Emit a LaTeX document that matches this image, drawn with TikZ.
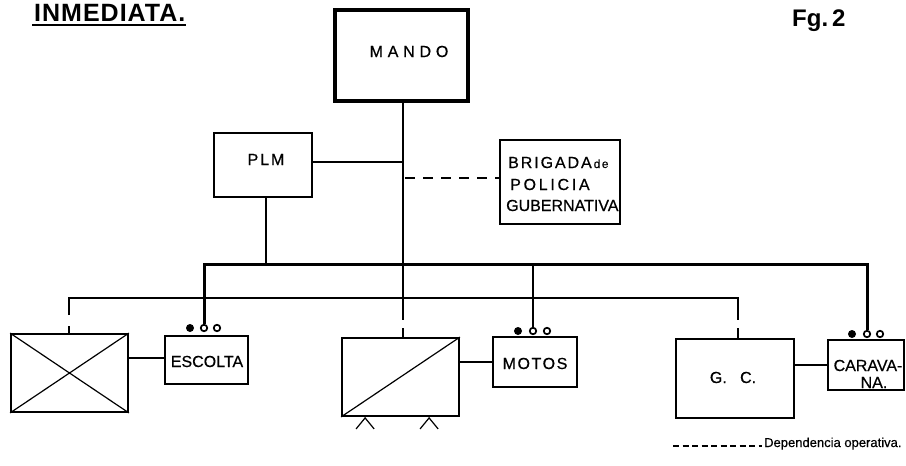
\documentclass[tikz,border=0pt]{standalone}
\usepackage{fontspec}
\setmainfont{Liberation Sans}
\newfontfamily\lblfont[FakeBold=0.6]{Liberation Sans}
\usetikzlibrary{calc}
\begin{document}
\begin{tikzpicture}[x=1pt,y=-1pt,
  box/.style={draw, line width=1.8pt, inner sep=0pt, rectangle},
  bigbox/.style={draw, line width=4pt, inner sep=0pt, rectangle},
  lbl/.style={inner sep=0pt, anchor=base, font=\lblfont\fontsize{16}{19}\selectfont},
  thinlink/.style={line width=1.2pt},
  buslink/.style={line width=3pt},
  mainlink/.style={line width=2.5pt},
  seclink/.style={line width=2.2pt},
  motlink/.style={line width=2pt},
  opdash/.style={line width=1.3pt, dash pattern=on 10pt off 8pt},
  legdash/.style={line width=1.2pt, dash pattern=on 6pt off 3.5pt},
  dotf/.style={circle, fill=black, inner sep=0pt, minimum size=8pt},
  doto/.style={circle, draw, line width=1.7pt, inner sep=0pt, minimum size=6.5pt}
]
\useasboundingbox (0,0) rectangle (906,466);

% title
\node[inner sep=0pt, anchor=base west, font=\bfseries\fontsize{25}{25}\selectfont] (title) at (34,21) {\addfontfeature{LetterSpace=4}INMEDIATA.};
\draw[line width=2pt] ([yshift=-4pt,xshift=-2pt]title.south west) -- ([yshift=-4pt,xshift=0pt]title.south east);
\node[inner sep=0pt, anchor=base west, font=\bfseries\fontsize{24}{24}\selectfont] (fig) at (792,26) {Fg.\,2};

% boxes
\node[bigbox, minimum width=133pt, minimum height=91pt] (mando) at (401.5,55.5) {};
\node[lbl] (mandot) at (409,57) {\addfontfeature{LetterSpace=30}MANDO};
\node[box, minimum width=98pt, minimum height=64pt] (plm) at (263,165) {};
\node[lbl] (plmt) at (266,165) {\addfontfeature{LetterSpace=12}PLM};
\node[box, minimum width=120pt, minimum height=84pt] (brig) at (560,182) {};
\node[lbl, anchor=base west] (b1) at (508,168) {\addfontfeature{LetterSpace=12}BRIGADA{\fontsize{12}{12}\selectfont\,de}};
\node[lbl, anchor=base west] (b2) at (510,190) {\addfontfeature{LetterSpace=17}POLICIA};
\node[lbl, anchor=base west] (b3) at (506,211) {GUBERNATIVA};

\node[box, minimum width=117pt, minimum height=78pt] (xbox) at (69.5,373) {};
\node[box, minimum width=83pt, minimum height=48pt] (esc) at (206.5,360) {};
\node[lbl] (esct) at (207,367) {ESCOLTA};
\node[box, minimum width=117pt, minimum height=78pt] (mid) at (400.5,377) {};
\node[box, minimum width=84pt, minimum height=50pt] (mot) at (535,362) {};
\node[lbl] (mott) at (535,369) {\addfontfeature{LetterSpace=10}MOTOS};
\node[box, minimum width=118pt, minimum height=79pt] (gc) at (735,378.5) {};
\node[lbl] (gct) at (733,383) {G.\ \ \ C.};
\node[box, minimum width=76pt, minimum height=50pt] (car) at (866,365) {};
\node[lbl] (car1) at (868,371) {CARAVA-};
\node[lbl] (car2) at (874,388) {NA.};

% dots
\node[dotf] (e1) at (190,328) {};
\node[doto] (e2) at (204,328) {};
\node[doto] (e3) at (217,328) {};
\node[dotf] (m1) at (518,331) {};
\node[doto] (m2) at (533,331) {};
\node[doto] (m3) at (547,331) {};
\node[dotf] (c1) at (852,334) {};
\node[doto] (c2) at (867,334) {};
\node[doto] (c3) at (880,334) {};

% junction coordinates
\coordinate (busmid) at (403,264);
\coordinate (vgap) at (403,320);
\coordinate (vstub) at (403,328);
\coordinate (plmj) at (403,162);
\coordinate (brj) at (405,178);
\coordinate (secmid) at (403,298);
\coordinate (lgap) at (69,315);
\coordinate (lstub) at (69,326);
\coordinate (rgap) at (738,320);
\coordinate (rstub) at (738,328);
\coordinate (legstart) at (673,446);

% connectors
\draw[mainlink] (mando.south -| vgap) -- (vgap);
\draw[mainlink] (vstub) -- (vstub |- mid.north);
\draw[thinlink] (plmj -| plm.east) -- (plmj);
\draw[opdash] (brj) -- (brj -| brig.west);
\draw[mainlink] (plm.south -| 266,0) -- (266,264);
\draw[buslink] (e2.north) |- (busmid) -| (c2.north);
\draw[motlink] (m2.north) -- (m2.north |- busmid);
\draw[seclink] (lgap) |- (secmid) -| (rgap);
\draw[seclink] (lstub) -- (lstub |- xbox.north);
\draw[seclink] (rstub) -- (rstub |- gc.north);

\draw[thinlink] (esc.west |- 0,358) -- (xbox.east |- 0,358);
\draw[thinlink] (mot.west) -- (mot.west -| mid.east);
\draw[thinlink] (car.west) -- (car.west -| gc.east);

% symbols in boxes
\draw[thinlink] (xbox.north west) -- (xbox.south east) (xbox.south west) -- (xbox.north east);
\draw[thinlink] (mid.south west) -- (mid.north east);
\draw[thinlink] ($(mid.south west)+(15,12)$) -- ($(mid.south west)+(24,1)$) -- ($(mid.south west)+(33,12)$);
\draw[thinlink] ($(mid.south west)+(79,12)$) -- ($(mid.south west)+(88,1)$) -- ($(mid.south west)+(97,12)$);

% legend
\node[inner sep=0pt, anchor=base west, font=\lblfont\fontsize{13}{13}\selectfont] (leg) at (764,447) {Dependencia operativa.};
\draw[legdash] (legstart) -- ([xshift=-2pt]legstart -| leg.west);
\end{tikzpicture}
\end{document}
